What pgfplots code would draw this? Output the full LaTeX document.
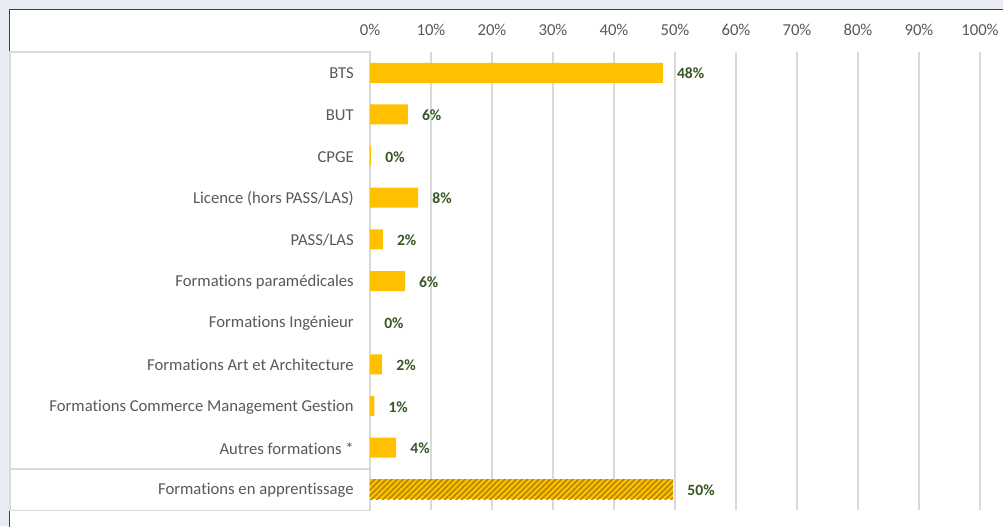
\documentclass[border=0pt]{standalone}
\usepackage{fontspec}
\setmainfont{Carlito}[Ligatures={NoCommon}]
\usepackage{pgfplots}
\pgfplotsset{compat=1.18}
\usetikzlibrary{patterns.meta}
\definecolor{gold}{HTML}{FFC000}
\definecolor{hatch}{HTML}{B38600}
\definecolor{gridc}{HTML}{D9D9D9}
\definecolor{txt}{HTML}{595959}
\definecolor{lab}{HTML}{375623}
\definecolor{bg}{HTML}{E9ECF4}
\definecolor{framec}{HTML}{404040}
\begin{document}
\begin{tikzpicture}
\begin{scope}[x=0.75pt,y=-0.75pt,shift={(-277.5pt,382.5pt)}]
  \fill[bg] (0,0) rectangle (1003,526);
  \useasboundingbox (0,0) rectangle (1003,526);
  \begin{scope}
  \clip (0,0) rectangle (1003,526);
  \filldraw[fill=white,draw=framec,line width=1.1pt] (9.5,9.5) rectangle (1012,535);
  \end{scope}
  \draw[gridc,line width=0.9pt] (10,52) rectangle (370,510.5);
  \draw[gridc,line width=0.9pt] (10,469) -- (370,469);
\end{scope}
\begin{axis}[
  at={(0pt,0pt)}, anchor=south west,
  scale only axis, width=457.5pt, height=343.5pt,
  xmin=0, xmax=100, ymin=-0.5, ymax=10.5,
  xbar, bar width=15pt, bar shift=0pt,
  axis line style={draw=none},
  major tick length=0pt,
  xmajorgrids, grid style={gridc,line width=0.9pt},
  xtick={0,10,...,100},
  xticklabel={\pgfmathprintnumber{\tick}\%},
  xticklabel pos=right,
  xticklabel style={anchor=south, inner sep=0pt, yshift=12pt},
  ytick={0,...,10},
  yticklabels={Formations en apprentissage, Autres formations *, Formations Commerce Management Gestion, Formations Art et Architecture, Formations Ingénieur, Formations paramédicales, PASS/LAS, Licence (hors PASS/LAS), CPGE, BUT, BTS},
  yticklabel style={anchor=east, inner sep=0pt, xshift=-12pt, yshift=-0.6pt},
  ticklabel style={font=\fontsize{12.5}{15}\selectfont, text=txt},
  /pgf/number format/assume math mode=true,
  point meta=x,
  nodes near coords={\pgfmathprintnumber[fixed,precision=0,assume math mode=true]{\pgfplotspointmeta}\%},
  nodes near coords style={anchor=west, inner sep=0pt, xshift=10.5pt, yshift=-0.6pt, font=\fontsize{11.7}{14}\selectfont\bfseries, text=lab},
  clip=false,
]
\addplot[fill=gold, draw=none] coordinates {
  (48,10) (6.2,9) (0.2,8) (7.9,7) (2.1,6) (5.7,5) (0,4) (2,3) (0.7,2) (4.3,1)
};
\addplot[fill=gold, draw=none, postaction={pattern={Lines[angle=45,distance=3pt,line width=1.2pt]}, pattern color=hatch}] coordinates {
  (49.7,0)
};
\end{axis}
\end{tikzpicture}
\end{document}
